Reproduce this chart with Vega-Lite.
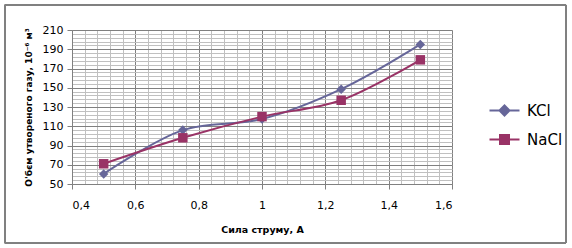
{
  "$schema": "https://vega.github.io/schema/vega-lite/v6.json",
  "width": 380,
  "height": 154,
  "autosize": {"type": "none"},
  "padding": {"left": 72, "top": 30, "right": 120, "bottom": 64},
  "background": "white",
  "config": {"view": {"stroke": null}, "font": "DejaVu Sans"},
  "data": {"values": [
    {"series": "KCl", "current": 0.5, "volume": 60.5},
    {"series": "KCl", "current": 0.75, "volume": 106},
    {"series": "KCl", "current": 1.0, "volume": 117.5},
    {"series": "KCl", "current": 1.25, "volume": 148.5},
    {"series": "KCl", "current": 1.5, "volume": 195},
    {"series": "NaCl", "current": 0.5, "volume": 71},
    {"series": "NaCl", "current": 0.75, "volume": 98},
    {"series": "NaCl", "current": 1.0, "volume": 120},
    {"series": "NaCl", "current": 1.25, "volume": 137},
    {"series": "NaCl", "current": 1.5, "volume": 179}
  ]},
  "layer": [
    {
      "mark": {"type": "rect", "fill": null, "stroke": "#808080", "strokeWidth": 1, "clip": false},
      "encoding": {
        "x": {"datum": 0.188, "type": "quantitative", "scale": {"domain": [0.4, 1.6], "nice": false, "zero": false}, "axis": null},
        "x2": {"datum": 1.96},
        "y": {"datum": 236, "type": "quantitative", "scale": {"domain": [50, 210], "nice": false, "zero": false}, "axis": null},
        "y2": {"datum": -11.3}
      }
    },
    {
      "mark": {"type": "point", "filled": true, "opacity": 0, "strokeWidth": 2},
      "encoding": {
        "x": {"field": "current", "type": "quantitative", "scale": {"domain": [0.4, 1.6], "nice": false, "zero": false}, "axis": null},
        "y": {"field": "volume", "type": "quantitative", "scale": {"domain": [50, 210], "nice": false, "zero": false}, "axis": null},
        "color": {"field": "series", "type": "nominal", "scale": {"domain": ["KCl", "NaCl"], "range": ["#666699", "#993366"]},
          "legend": {"title": null, "orient": "none", "legendX": 425, "legendY": 73,
            "symbolSize": 100, "symbolStrokeWidth": 2, "symbolOpacity": 1, "labelFontSize": 15, "labelColor": "black", "labelOffset": 15, "rowPadding": 11}},
        "stroke": {"field": "series", "type": "nominal", "scale": {"domain": ["KCl", "NaCl"], "range": ["#666699", "#993366"]}},
        "shape": {"field": "series", "type": "nominal", "scale": {"domain": ["KCl", "NaCl"], "range": ["M-3,0H3M-1,0L0,-1L1,0L0,1Z", "M-3,0H3M-0.9,-0.9H0.9V0.9H-0.9Z"]}},
        "size": {"value": 100}
      }
    },
    {
      "mark": {"type": "line", "interpolate": "catmull-rom", "strokeWidth": 2},
      "encoding": {
        "x": {"field": "current", "type": "quantitative",
          "scale": {"domain": [0.4, 1.6], "nice": false, "zero": false},
          "axis": {"orient": "top", "values": [0.4,0.44,0.48,0.52,0.56,0.6,0.64,0.68,0.72,0.76,0.8,0.84,0.88,0.92,0.96,1.0,1.04,1.08,1.12,1.16,1.2,1.24,1.28,1.32,1.36,1.4,1.44,1.48,1.52,1.56,1.6],
            "labels": false, "ticks": false, "domain": false, "grid": true, "gridColor": "#c0c0c0", "gridOpacity": 1, "gridWidth": 1, "title": null}},
        "y": {"field": "volume", "type": "quantitative",
          "scale": {"domain": [50, 210], "nice": false, "zero": false},
          "axis": {"orient": "right", "values": [50,54,58,62,66,70,74,78,82,86,90,94,98,102,106,110,114,118,122,126,130,134,138,142,146,150,154,158,162,166,170,174,178,182,186,190,194,198,202,206,210],
            "labels": false, "ticks": false, "domain": false, "grid": true, "gridColor": "#c0c0c0", "gridOpacity": 1, "gridWidth": 1, "title": null}},
        "color": {"field": "series", "type": "nominal", "scale": {"domain": ["KCl", "NaCl"], "range": ["#666699", "#993366"]}}
      }
    },
    {
      "transform": [{"filter": {"field": "series", "equal": "KCl"}}],
      "mark": {"type": "point", "filled": true, "opacity": 1, "shape": "diamond", "size": 90},
      "encoding": {
        "x": {"field": "current", "type": "quantitative",
          "scale": {"domain": [0.4, 1.6], "nice": false, "zero": false},
          "axis": {"orient": "bottom", "values": [0.4,0.6,0.8,1.0,1.2,1.4,1.6],
            "labelExpr": "replace(toString(datum.value), '.', ',')",
            "grid": true, "gridColor": "#808080", "gridOpacity": 1,
            "domainColor": "#808080", "tickColor": "#808080", "tickSize": 5,
            "labelFontSize": 11, "labelColor": "black", "labelPadding": 10,
            "title": "Сила струму, А", "titleFontSize": 9.5, "titleFontWeight": "bold", "titleColor": "black", "titlePadding": 14}},
        "y": {"field": "volume", "type": "quantitative",
          "scale": {"domain": [50, 210], "nice": false, "zero": false},
          "axis": {"orient": "left", "values": [50,70,90,110,130,150,170,190,210],
            "grid": true, "gridColor": "#808080", "gridOpacity": 1,
            "domainColor": "#808080", "tickColor": "#808080", "tickSize": 5,
            "labelFontSize": 11, "labelColor": "black", "labelPadding": 4,
            "title": "О'бєм утвореного газу, 10⁻⁶ м³", "titleFontSize": 9, "titleFontWeight": "bold", "titleColor": "black", "titlePadding": 9}},
        "color": {"field": "series", "type": "nominal", "scale": {"domain": ["KCl", "NaCl"], "range": ["#666699", "#993366"]}}
      }
    },
    {
      "transform": [{"filter": {"field": "series", "equal": "NaCl"}}],
      "mark": {"type": "point", "filled": true, "opacity": 1, "shape": "square", "size": 90},
      "encoding": {
        "x": {"field": "current", "type": "quantitative", "scale": {"domain": [0.4, 1.6], "nice": false, "zero": false}, "axis": null},
        "y": {"field": "volume", "type": "quantitative", "scale": {"domain": [50, 210], "nice": false, "zero": false}, "axis": null},
        "color": {"field": "series", "type": "nominal", "scale": {"domain": ["KCl", "NaCl"], "range": ["#666699", "#993366"]}}
      }
    }
  ],
  "resolve": {"axis": {"x": "independent", "y": "independent"}}
}
